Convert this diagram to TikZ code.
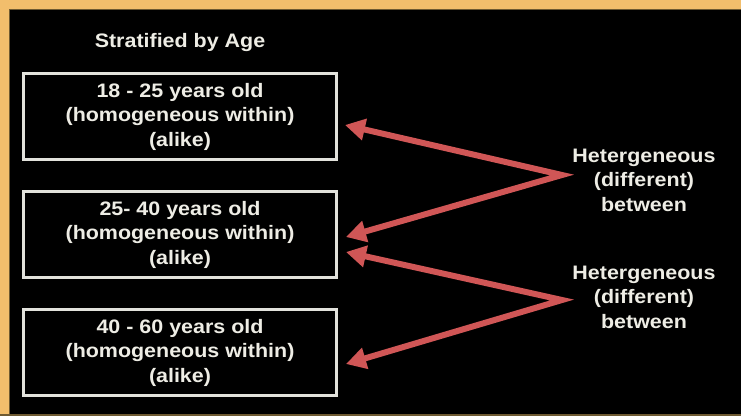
\documentclass[tikz,border=0pt]{standalone}
\usepackage{fontspec}
\setmainfont{Liberation Sans}[FakeStretch=1.1]
\usetikzlibrary{arrows.meta}
\definecolor{frameorange}{HTML}{F2BE6C}
\definecolor{framebrown}{HTML}{6E5A32}
\definecolor{txt}{HTML}{EEEDE5}
\definecolor{boxline}{HTML}{E2E2DC}
\definecolor{arrowred}{HTML}{D05656}
\tikzset{
  lbl/.style={text=txt, align=center, font=\bfseries\fontsize{19.5}{24.5}\selectfont, inner sep=0pt},
  agebox/.style={lbl, draw=boxline, line width=2.4pt, minimum width=313pt, minimum height=86pt},
  redarrow/.style={draw=arrowred, line width=6pt, line join=miter, miter limit=20,
    {Triangle[length=20pt,width=21pt]}-{Triangle[length=20pt,width=21pt]}}
}
\begin{document}
\begin{tikzpicture}[x=1pt,y=-1pt]
\useasboundingbox (0,0) rectangle (741,416);
\fill[black] (0,0) rectangle (741,416);
\fill[frameorange] (0,0) rectangle (741,9);
\fill[frameorange] (0,0) rectangle (9,416);
\fill[framebrown] (9,9) rectangle (741,10.2);
\fill[framebrown] (9,9) rectangle (10.2,416);
\fill[framebrown] (0,414) rectangle (741,416);

\node[lbl] (title) at (180,42) {Stratified by Age};

\node[agebox] (b1) at (180,116.5) {18 - 25 years old\\(homogeneous within)\\(alike)};
\node[agebox] (b2) at (180,234.5) {25- 40 years old\\(homogeneous within)\\(alike)};
\node[agebox] (b3) at (180,352.5) {40 - 60 years old\\(homogeneous within)\\(alike)};

\node[lbl] (h1) at (644,180) {Hetergeneous\\(different)\\between};
\node[lbl] (h2) at (644,297) {Hetergeneous\\(different)\\between};

\coordinate (a1) at (562,175);
\coordinate (a2) at (562,300);
\coordinate (t1) at (345,125);
\coordinate (t2) at (346,237);
\coordinate (t3) at (346,252);
\coordinate (t4) at (346,364);

\draw[redarrow] (t1) -- (a1) -- (t2);
\draw[redarrow] (t3) -- (a2) -- (t4);
\end{tikzpicture}
\end{document}
